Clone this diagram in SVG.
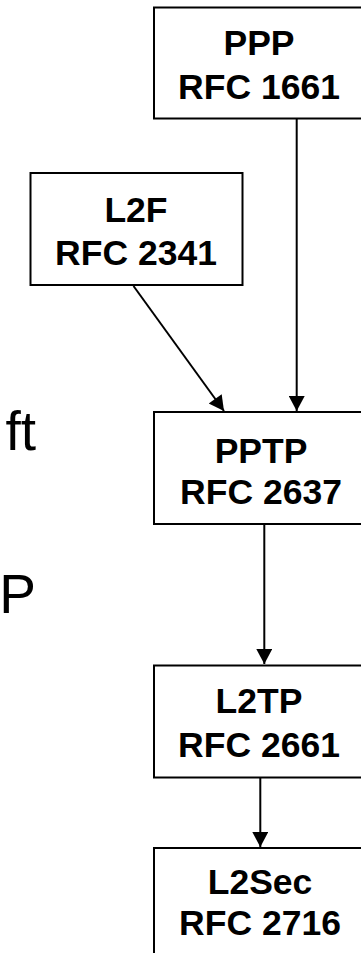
<svg xmlns="http://www.w3.org/2000/svg" width="361" height="953" viewBox="0 0 361 953">
<defs>
<style>
.box{fill:#fff;stroke:#000;stroke-width:2}
.lbl{font-family:"Liberation Sans",Arial,sans-serif;font-weight:bold;font-size:35.5px;text-anchor:middle;fill:#000}
.side{font-family:"Liberation Sans",Arial,sans-serif;font-size:55px;text-anchor:end;fill:#000}
.edge{stroke:#000;stroke-width:2;fill:none}
</style>
<marker id="arr" markerUnits="userSpaceOnUse" markerWidth="18" markerHeight="16" viewBox="0 0 16 16" refX="15" refY="8" orient="auto">
<path d="M0,0 L15,8 L0,16 Z" fill="#000"/>
</marker>
</defs>
<rect width="361" height="953" fill="#fff"/>
<text class="side" x="36" y="450">ft</text>
<text class="side" x="36" y="613">P</text>
<g id="connectors">
<line class="edge" x1="296.7" y1="119" x2="296.7" y2="411" marker-end="url(#arr)"/>
<line class="edge" x1="133.5" y1="286" x2="224" y2="411" marker-end="url(#arr)"/>
<line class="edge" x1="264.3" y1="525" x2="264.3" y2="664" marker-end="url(#arr)"/>
<line class="edge" x1="260.3" y1="778" x2="260.3" y2="847" marker-end="url(#arr)"/>
</g>
<g id="ppp">
<rect class="box" x="154" y="7.5" width="230" height="111"/>
<text class="lbl" x="259" y="55">PPP</text>
<text class="lbl" x="259" y="99">RFC 1661</text>
</g>
<g id="l2f">
<rect class="box" x="30.5" y="173" width="212" height="112"/>
<text class="lbl" x="136" y="221.5">L2F</text>
<text class="lbl" x="136" y="265">RFC 2341</text>
</g>
<g id="pptp">
<rect class="box" x="154" y="412" width="230" height="112"/>
<text class="lbl" x="261" y="463">PPTP</text>
<text class="lbl" x="261" y="504">RFC 2637</text>
</g>
<g id="l2tp">
<rect class="box" x="154" y="665.5" width="230" height="112"/>
<text class="lbl" x="259" y="713">L2TP</text>
<text class="lbl" x="259" y="757">RFC 2661</text>
</g>
<g id="l2sec">
<rect class="box" x="154" y="848" width="230" height="130"/>
<text class="lbl" x="260" y="894">L2Sec</text>
<text class="lbl" x="260" y="935">RFC 2716</text>
</g>
</svg>
